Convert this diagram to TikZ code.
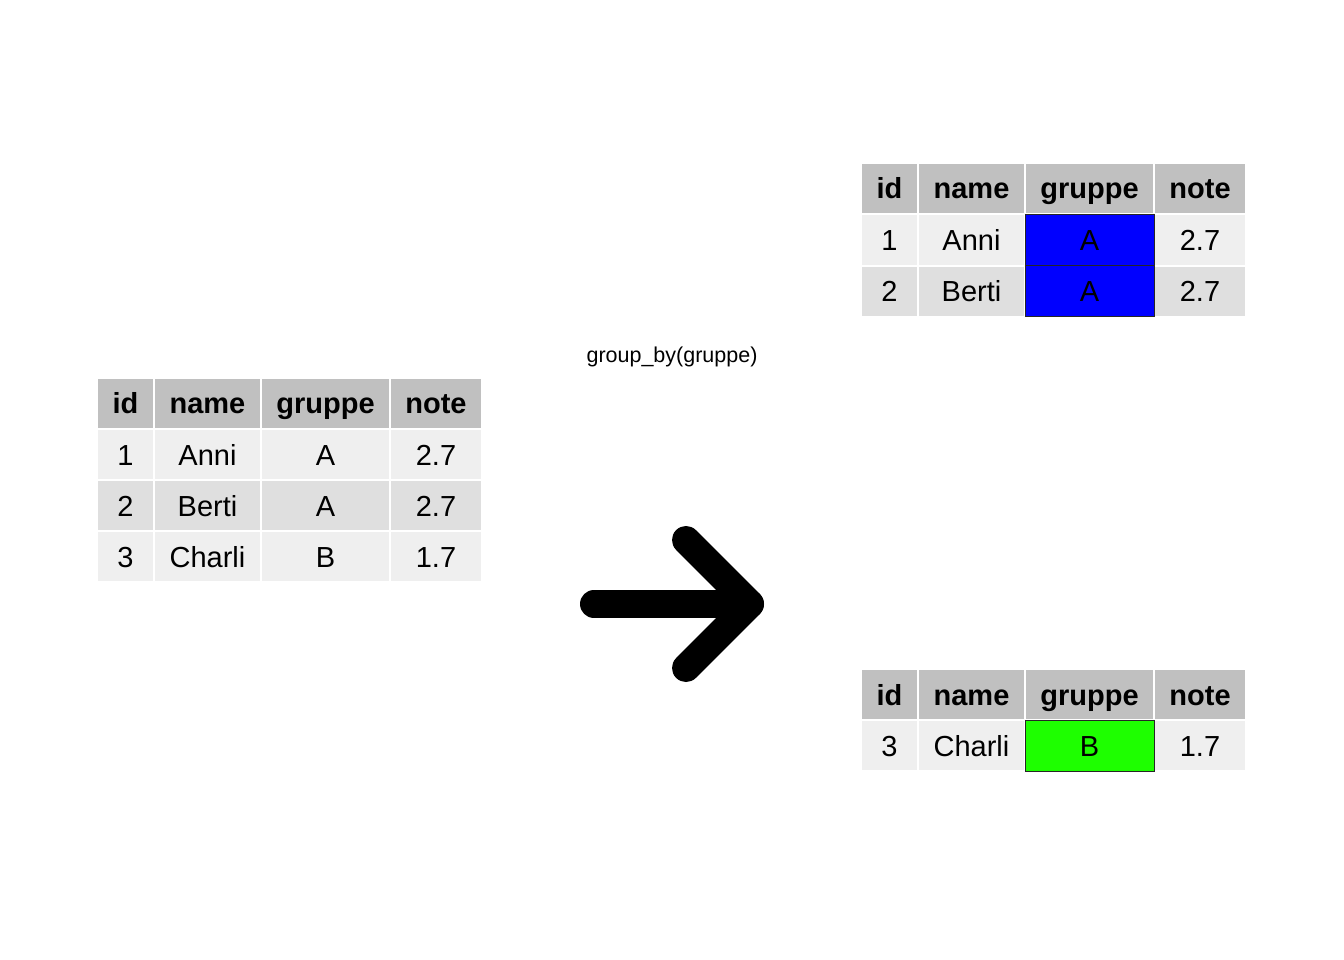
\documentclass[tikz,border=0pt]{standalone}
\usepackage{fontspec}
\setmainfont{Liberation Sans}
\usetikzlibrary{positioning}
\definecolor{headgrey}{HTML}{C0C0C0}
\definecolor{rowlight}{HTML}{EFEFEF}
\definecolor{rowdark}{HTML}{DFDFDF}
\definecolor{grpgreen}{HTML}{1EFF00}
\tikzset{cell/.style = {draw = white, line width = 2pt, inner sep = 0, text height = 21pt, text depth = 0pt, minimum height = 51pt, font = \fontsize{29}{35}\selectfont}}
\tikzset{colhead/.style = {cell, fill = headgrey, font = \bfseries\fontsize{29}{35}\selectfont}}
\tikzset{oddrow/.style = {cell, fill = rowlight}}
\tikzset{evenrow/.style = {cell, fill = rowdark}}
\tikzset{grpA/.style = {fill = blue, draw = black!85, line width = 1pt}}
\tikzset{grpB/.style = {fill = grpgreen, draw = black!85, line width = 1pt}}
\tikzset{col1/.style = {minimum width = 57pt}, col2/.style = {minimum width = 107pt}}
\tikzset{col3/.style = {minimum width = 129pt}, col4/.style = {minimum width = 92pt}}

\begin{document}
\begin{tikzpicture}[x = 1pt, y = -1pt]
    \useasboundingbox (0, 0) rectangle (1344, 960);

    % input table
    \node[colhead, col1] (in-h1) at (125.5, 403) {id};
    \node[colhead, col2] (in-h2) at (207.5, 403) {name};
    \node[colhead, col3] (in-h3) at (325.5, 403) {gruppe};
    \node[colhead, col4] (in-h4) at (436, 403) {note};

    \node[oddrow, col1] (in-11) at (125.5, 454.5) {1};
    \node[oddrow, col2] (in-12) at (207.5, 454.5) {Anni};
    \node[oddrow, col3] (in-13) at (325.5, 454.5) {A};
    \node[oddrow, col4] (in-14) at (436, 454.5) {2.7};

    \node[evenrow, col1] (in-21) at (125.5, 505.5) {2};
    \node[evenrow, col2] (in-22) at (207.5, 505.5) {Berti};
    \node[evenrow, col3] (in-23) at (325.5, 505.5) {A};
    \node[evenrow, col4] (in-24) at (436, 505.5) {2.7};

    \node[oddrow, col1] (in-31) at (125.5, 556.5) {3};
    \node[oddrow, col2] (in-32) at (207.5, 556.5) {Charli};
    \node[oddrow, col3] (in-33) at (325.5, 556.5) {B};
    \node[oddrow, col4] (in-34) at (436, 556.5) {1.7};

    % label and arrow
    \node[font = \fontsize{21.5}{26}\selectfont, inner sep = 0] (lbl) at (672, 357) {group\_by(gruppe)};

    \coordinate (tail) at (594, 604);
    \coordinate (tip) at (750, 604);
    \coordinate (barbup) at (686, 540);
    \coordinate (barbdown) at (686, 668);
    \draw[line width = 28pt, line cap = round, line join = round] (tail) -- (tip);
    \draw[line width = 28pt, line cap = round, line join = round] (barbup) -- (tip) -- (barbdown);

    % group A
    \node[colhead, col1] (ga-h1) at (889.5, 188.5) {id};
    \node[colhead, col2] (ga-h2) at (971.5, 188.5) {name};
    \node[colhead, col3] (ga-h3) at (1089.5, 188.5) {gruppe};
    \node[colhead, col4] (ga-h4) at (1200, 188.5) {note};

    \node[oddrow, col1] (ga-11) at (889.5, 240) {1};
    \node[oddrow, col2] (ga-12) at (971.5, 240) {Anni};
    \node[oddrow, col4] (ga-14) at (1200, 240) {2.7};

    \node[evenrow, col1] (ga-21) at (889.5, 291) {2};
    \node[evenrow, col2] (ga-22) at (971.5, 291) {Berti};
    \node[evenrow, col4] (ga-24) at (1200, 291) {2.7};

    \node[oddrow, col3, grpA] (ga-13) at (1089.5, 240) {A};
    \node[evenrow, col3, grpA] (ga-23) at (1089.5, 291) {A};

    % group B
    \node[colhead, col1] (gb-h1) at (889.5, 694.5) {id};
    \node[colhead, col2] (gb-h2) at (971.5, 694.5) {name};
    \node[colhead, col3] (gb-h3) at (1089.5, 694.5) {gruppe};
    \node[colhead, col4] (gb-h4) at (1200, 694.5) {note};

    \node[oddrow, col1] (gb-11) at (889.5, 745.5) {3};
    \node[oddrow, col2] (gb-12) at (971.5, 745.5) {Charli};
    \node[oddrow, col4] (gb-14) at (1200, 745.5) {1.7};

    \node[oddrow, col3, grpB] (gb-13) at (1089.5, 745.5) {B};
  \end{tikzpicture}
\end{document}
